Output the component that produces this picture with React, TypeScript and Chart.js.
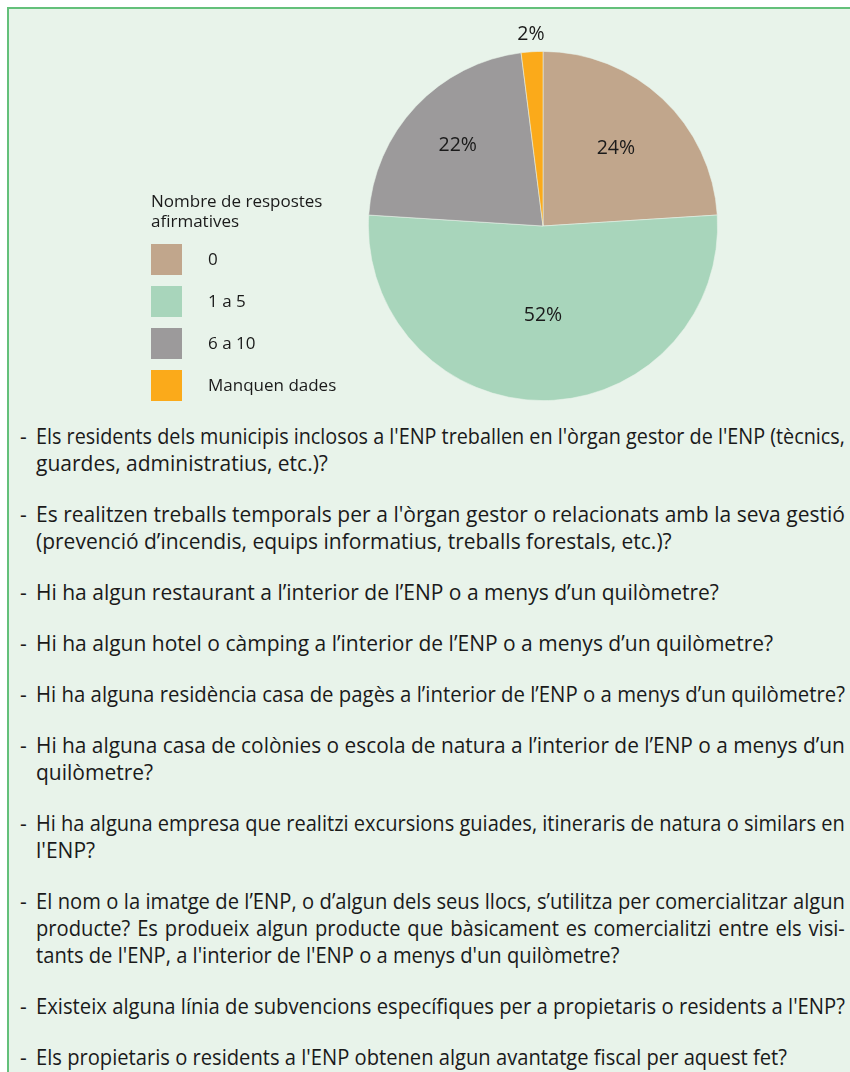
import React, { useEffect, useRef } from "react";
import { Chart, registerables } from "chart.js";

Chart.register(...registerables);

// ---- data ----
const categories = ["0", "1 a 5", "6 a 10", "Manquen dades"];
const shares = [24, 52, 22, 2];
const sliceColors = ["#c1a68c", "#a8d5bb", "#9c9a9b", "#fbaa1a"];
const legendTitle = ["Nombre de respostes", "afirmatives"];
const labelRadial = [0.61, 0.515, 0.67, 1.1];

const questions: string[][] = [
  [
    "Els residents dels municipis inclosos a l'ENP treballen en l'òrgan gestor de l'ENP (tècnics,",
    "guardes, administratius, etc.)?",
  ],
  [
    "Es realitzen treballs temporals per a l'òrgan gestor o relacionats amb la seva gestió",
    "(prevenció d’incendis, equips informatius, treballs forestals, etc.)?",
  ],
  ["Hi ha algun restaurant a l’interior de l’ENP o a menys d’un quilòmetre?"],
  ["Hi ha algun hotel o càmping a l’interior de l’ENP o a menys d’un quilòmetre?"],
  ["Hi ha alguna residència casa de pagès a l’interior de l’ENP o a menys d’un quilòmetre?"],
  [
    "Hi ha alguna casa de colònies o escola de natura a l’interior de l’ENP o a menys d’un",
    "quilòmetre?",
  ],
  [
    "Hi ha alguna empresa que realitzi excursions guiades, itineraris de natura o similars en",
    "l'ENP?",
  ],
  [
    "El nom o la imatge de l’ENP, o d’algun dels seus llocs, s’utilitza per comercialitzar algun",
    "producte? Es produeix algun producte que bàsicament es comercialitzi entre els visi-",
    "tants de l'ENP, a l'interior de l'ENP o a menys d'un quilòmetre?",
  ],
  ["Existeix alguna línia de subvencions específiques per a propietaris o residents a l'ENP?"],
  ["Els propietaris o residents a l'ENP obtenen algun avantatge fiscal per aquest fet?"],
];

// horizontal condensing of each paragraph (typographic style of the source)
const paraCondense = [1, 1, 1, 1, 1, 1, 1, 0.96, 1, 0.96];

const FONT = "'Open Sans', Lato, sans-serif";
const TEXT_SIZE = 21;
const AVAIL = 809;

let measureCtx: CanvasRenderingContext2D | null = null;
function textWidth(s: string) {
  if (!measureCtx) measureCtx = document.createElement("canvas").getContext("2d");
  if (!measureCtx) return 0;
  measureCtx.font = `${TEXT_SIZE}px ${FONT}`;
  return measureCtx.measureText(s).width;
}

function PieChart() {
  const ref = useRef<HTMLCanvasElement>(null);
  useEffect(() => {
    if (!ref.current) return;

    const sliceLabels = {
      id: "sliceLabels",
      afterDatasetsDraw(chart: any) {
        const ctx = chart.ctx;
        const meta = chart.getDatasetMeta(0);
        ctx.save();
        ctx.font = `19.5px ${FONT}`;
        ctx.fillStyle = "#1a1a1a";
        ctx.textAlign = "center";
        ctx.textBaseline = "middle";
        meta.data.forEach((arc: any, i: number) => {
          const p = arc.getProps(["x", "y", "startAngle", "endAngle", "outerRadius"], true);
          const mid = (p.startAngle + p.endAngle) / 2;
          const r = p.outerRadius * labelRadial[i];
          ctx.fillText(`${chart.data.datasets[0].data[i]}%`, p.x + Math.cos(mid) * r, p.y + Math.sin(mid) * r);
        });
        ctx.restore();
      },
    };

    const sideLegend = {
      id: "sideLegend",
      afterDraw(chart: any) {
        const ctx = chart.ctx;
        const x0 = 151;
        ctx.save();
        ctx.fillStyle = "#1a1a1a";
        ctx.font = `17px ${FONT}`;
        ctx.textAlign = "left";
        ctx.textBaseline = "alphabetic";
        legendTitle.forEach((t, i) => ctx.fillText(t, x0, 207 + i * 20));
        const ds = chart.data.datasets[0];
        ctx.textBaseline = "middle";
        (chart.data.labels as string[]).forEach((lab, i) => {
          const top = 244 + i * 42;
          ctx.fillStyle = ds.backgroundColor[i];
          ctx.fillRect(x0, top, 31, 31);
          ctx.fillStyle = "#1a1a1a";
          ctx.fillText(lab, 208, top + 16);
        });
        ctx.restore();
      },
    };

    const chart = new Chart(ref.current, {
      type: "pie",
      data: {
        labels: categories,
        datasets: [
          {
            data: shares,
            backgroundColor: sliceColors,
            borderColor: "rgba(232,243,234,0.7)",
            borderWidth: 0.8,
          },
        ],
      },
      options: {
        responsive: false,
        animation: false,
        layout: { padding: { left: 368, right: 132, top: 51, bottom: 9 } },
        plugins: {
          legend: { display: false },
          tooltip: { enabled: false },
        },
      },
      plugins: [sliceLabels, sideLegend],
    });
    return () => chart.destroy();
  }, []);
  return (
    <canvas
      ref={ref}
      width={850}
      height={410}
      style={{ position: "absolute", left: 0, top: 0, width: 850, height: 410 }}
    />
  );
}

function Line({ text, justify, k }: { text: string; justify: boolean; k: number }) {
  const nat = textWidth(text);
  const s = nat > 0 ? Math.min(k, AVAIL / nat) : k;
  const words = text.split(" ");
  return (
    <div style={{ height: 27, lineHeight: "27px", whiteSpace: "nowrap" }}>
      <div
        style={{
          width: AVAIL / s,
          transform: `scaleX(${s})`,
          transformOrigin: "left center",
          display: justify ? "flex" : "block",
          justifyContent: "space-between",
        }}
      >
        {justify ? words.map((w, i) => <span key={i}>{w}</span>) : text}
      </div>
    </div>
  );
}

export default function App() {
  return (
    <div style={{ position: "fixed", left: 0, top: 0, width: 850, height: 1072, background: "#ffffff", overflow: "hidden" }}>
      <div
        style={{
          position: "absolute",
          left: 7,
          top: 7,
          right: 0,
          bottom: 0,
          background: "#e8f3ea",
          borderTop: "2px solid #63c07a",
          borderLeft: "2px solid #63c07a",
        }}
      />
      <PieChart />
      <div
        style={{
          position: "absolute",
          left: 20,
          top: 423,
          width: 825,
          fontFamily: FONT,
          fontSize: TEXT_SIZE,
          color: "#1a1a1a",
        }}
      >
        {questions.map((lines, qi) => (
          <div key={qi} style={{ display: "flex", marginBottom: 24 }}>
            <div style={{ width: 16, flex: "0 0 16px", height: 27, lineHeight: "27px" }}>-</div>
            <div style={{ flex: 1, overflow: "visible" }}>
              {lines.map((ln, li) => (
                <Line key={li} text={ln} justify={li < lines.length - 1} k={paraCondense[qi]} />
              ))}
            </div>
          </div>
        ))}
      </div>
    </div>
  );
}
